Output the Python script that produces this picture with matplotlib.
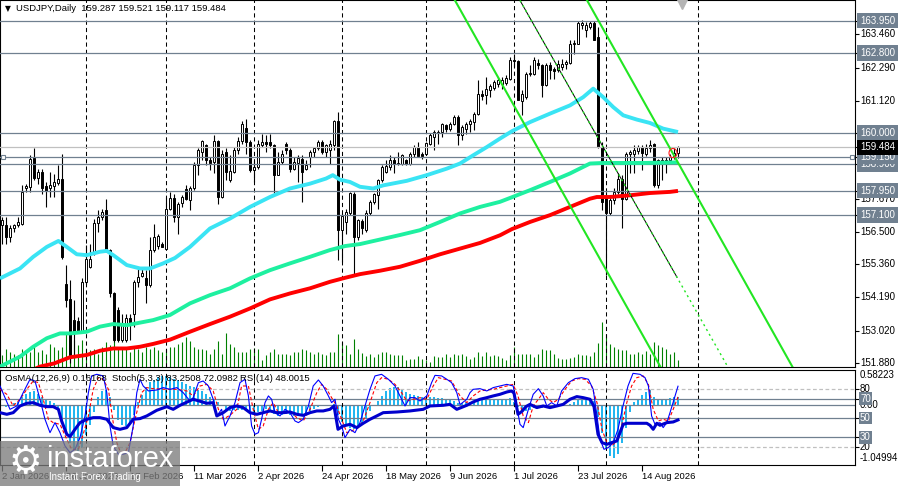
import numpy as np
import matplotlib
matplotlib.use("Agg")
import matplotlib.pyplot as plt
import matplotlib.transforms as mtrans
from matplotlib.patches import Ellipse, Rectangle

plt.rcParams['font.family'] = ['Liberation Sans', 'DejaVu Sans']

# ---------------- data (daily bars, index 0 = 2 Jan 2026) ----------------
opens = [156.74, 156.74, 156.32, 156.62, 156.74, 156.79, 158.06, 158.09, 159.12, 158.41,
         158.61, 158.11, 158.03, 158.11, 158.23, 158.38, 154.68, 154.12, 153.39, 153.37,
         152.98, 154.74, 155.27, 155.74, 156.82, 157.01, 157.26, 155.86, 154.33, 153.74,
         152.69, 152.69, 153.45, 153.62, 154.74, 154.94, 154.86, 154.62, 155.86, 155.99,
         156.09, 155.91, 157.32, 157.71, 157.03, 157.52, 158.00, 157.64, 158.06, 158.85,
         159.32, 159.55, 159.05, 158.97, 159.71, 157.73, 159.32, 158.32, 158.61, 159.38,
         159.71, 160.18, 159.67, 158.67, 158.79, 159.58, 159.67, 159.67, 159.55, 158.50,
         158.97, 159.61, 159.40, 158.73, 158.93, 159.08, 158.73, 159.14, 159.32, 159.44,
         159.67, 159.32, 159.40, 159.55, 160.41, 156.56, 156.85, 157.15, 157.85, 156.32,
         156.89, 156.56, 157.15, 157.56, 157.79, 158.32, 158.61, 158.79, 159.05, 158.88,
         158.91, 159.03, 158.91, 159.26, 159.49, 159.26, 159.26, 159.61, 159.85, 159.99,
         160.02, 160.26, 160.14, 160.32, 160.55, 159.90, 160.14, 160.29, 160.37, 160.64,
         161.35, 161.31, 161.51, 161.58, 161.72, 161.70, 161.75, 161.90, 162.57, 162.52,
         161.11, 161.25, 162.05, 162.07, 162.45, 162.37, 161.67, 162.40, 162.25, 162.19,
         162.31, 162.43, 162.45, 163.11, 163.13, 163.81, 163.63, 163.74, 163.86, 163.37,
         159.49, 157.73, 157.15, 157.64, 157.91, 158.38, 157.67, 159.24, 159.26, 159.35,
         159.49, 159.26, 159.44, 159.59, 158.14, 158.97, 158.97, 159.03, 159.14, 159.287]
highs = [157.03, 157.03, 156.74, 156.79, 157.03, 158.14, 158.18, 159.20, 159.44, 158.73,
         158.73, 158.26, 158.61, 158.55, 158.85, 159.26, 155.33, 154.80, 154.09, 153.51,
         154.86, 156.03, 156.09, 156.97, 157.26, 157.32, 157.67, 155.91, 154.39, 153.86,
         153.62, 153.62, 153.62, 154.80, 155.27, 155.21, 155.15, 156.32, 156.79, 156.44,
         156.15, 157.73, 157.91, 157.85, 157.56, 157.79, 158.14, 158.11, 158.97, 159.44,
         159.75, 159.61, 159.14, 159.90, 159.75, 159.38, 159.44, 159.20, 159.49, 159.85,
         160.41, 160.49, 159.73, 159.03, 159.73, 159.96, 159.90, 159.96, 159.61, 159.32,
         159.38, 159.67, 159.44, 159.14, 159.20, 159.20, 159.03, 159.38, 159.49, 159.75,
         159.73, 159.61, 159.75, 160.46, 160.73, 157.15, 157.29, 157.91, 157.91, 156.97,
         156.97, 157.26, 157.62, 157.87, 158.38, 158.85, 159.05, 159.20, 159.14, 159.32,
         159.26, 159.08, 159.32, 159.55, 159.67, 159.32, 159.67, 159.99, 160.08, 160.08,
         160.34, 160.32, 160.37, 160.61, 160.61, 160.26, 160.37, 160.49, 160.73, 161.84,
         161.49, 161.96, 161.72, 161.84, 161.96, 161.96, 162.02, 162.66, 162.78, 162.57,
         161.49, 162.14, 162.37, 162.66, 162.60, 162.43, 162.45, 162.49, 162.33, 162.55,
         162.60, 162.57, 163.25, 163.25, 163.95, 163.98, 163.90, 163.93, 163.93, 163.72,
         159.67, 157.91, 157.73, 158.03, 158.56, 158.50, 159.32, 159.40, 159.55, 159.55,
         159.55, 159.61, 159.73, 159.64, 159.08, 159.14, 159.14, 159.26, 159.44, 159.521]
lows = [156.09, 156.09, 156.15, 156.50, 156.68, 156.74, 157.91, 157.91, 158.32, 158.20,
        157.85, 157.38, 157.73, 157.73, 158.14, 155.55, 153.86, 151.86, 152.10, 152.92,
        152.92, 154.68, 155.21, 155.68, 156.50, 156.91, 155.80, 154.21, 152.63, 152.63,
        152.63, 152.63, 152.69, 153.16, 154.56, 154.92, 153.98, 154.56, 155.80, 155.91,
        155.97, 155.91, 157.26, 156.85, 156.44, 157.38, 157.62, 157.26, 157.97, 158.50,
        159.03, 158.85, 158.67, 158.56, 157.50, 157.68, 158.32, 158.26, 158.56, 159.26,
        159.61, 159.26, 158.61, 158.26, 158.73, 159.49, 159.32, 159.44, 157.85, 158.50,
        158.91, 159.26, 158.61, 158.67, 158.26, 157.56, 158.67, 158.79, 159.14, 159.38,
        159.26, 159.14, 158.91, 159.38, 155.50, 155.45, 156.44, 157.09, 154.97, 156.21,
        156.44, 156.50, 157.09, 157.50, 157.29, 158.26, 158.56, 158.67, 158.58, 158.85,
        158.85, 158.85, 158.85, 159.14, 159.14, 159.08, 159.20, 159.55, 159.38, 159.61,
        159.85, 160.02, 160.06, 160.26, 159.55, 159.73, 159.96, 160.02, 160.08, 160.61,
        161.14, 161.02, 161.25, 161.49, 161.61, 161.55, 161.67, 161.84, 162.31, 161.14,
        160.61, 161.20, 161.98, 162.02, 162.25, 161.25, 161.63, 161.90, 161.90, 162.14,
        162.19, 162.25, 162.43, 162.78, 163.11, 163.66, 163.37, 163.66, 163.25, 159.45,
        157.26, 154.97, 157.09, 157.50, 157.85, 156.62, 157.62, 158.56, 158.56, 159.26,
        158.67, 159.17, 159.32, 158.09, 158.03, 158.32, 158.56, 158.91, 159.08, 159.117]
closes = [156.91, 156.32, 156.62, 156.74, 156.85, 157.91, 158.11, 159.08, 158.41, 158.61,
          158.06, 157.95, 158.14, 158.26, 158.38, 155.62, 154.09, 152.10, 152.92, 152.98,
          154.74, 155.56, 155.56, 156.82, 157.03, 157.21, 155.86, 154.33, 152.69, 152.69,
          153.27, 153.45, 153.27, 154.74, 154.92, 155.06, 154.62, 155.86, 156.32, 156.35,
          155.97, 157.32, 157.71, 157.01, 157.50, 157.73, 157.66, 158.06, 158.85, 159.38,
          159.71, 159.03, 158.93, 159.71, 157.73, 159.26, 158.61, 158.65, 159.38, 159.71,
          160.29, 159.67, 158.67, 158.79, 159.61, 159.67, 159.61, 159.55, 158.50, 158.97,
          159.26, 159.40, 158.73, 158.97, 159.12, 158.61, 158.85, 159.32, 159.44, 159.67,
          159.32, 159.55, 159.59, 160.41, 156.56, 157.05, 157.21, 157.87, 156.32, 156.91,
          156.62, 157.17, 157.56, 157.82, 158.32, 158.79, 158.81, 159.03, 158.91, 158.93,
          159.20, 158.91, 159.26, 159.49, 159.17, 159.19, 159.64, 159.90, 160.02, 160.02,
          160.32, 160.14, 160.32, 160.55, 159.90, 160.20, 160.32, 160.41, 160.64, 161.35,
          161.28, 161.55, 161.63, 161.78, 161.84, 161.84, 161.94, 162.55, 162.52, 161.16,
          161.37, 162.05, 162.10, 162.57, 162.37, 161.67, 162.37, 162.19, 162.17, 162.43,
          162.43, 162.49, 163.13, 163.16, 163.86, 163.86, 163.78, 163.88, 163.27, 159.49,
          157.56, 157.15, 157.64, 157.91, 158.38, 157.67, 159.26, 159.32, 159.40, 159.49,
          159.28, 159.47, 159.58, 158.14, 159.03, 159.05, 159.05, 159.14, 159.28, 159.484]
# tick volume (thousands)
volumes = [11.7, 18.3, 15, 13.3, 11.7, 18.3, 16.7, 15, 20, 15,
           16.7, 13.3, 23.3, 20, 16.7, 20, 33.3, 28.3, 26.7, 21.7,
           26.7, 18.3, 16.7, 18.3, 13.3, 20, 25, 21.7, 26.7, 20,
           18.3, 18.3, 15, 20, 18.3, 15, 20, 18.3, 20, 16.7,
           15, 18.3, 20, 20, 23.3, 25, 30, 26, 20, 18.3,
           18.3, 16.7, 13.3, 18.3, 26, 13.3, 34, 23.3, 20, 15,
           15, 15, 18.3, 19.3, 18.3, 6.7, 11.7, 15, 18.3, 13.3,
           13.3, 13.3, 11.7, 15, 15, 18.3, 16.7, 15, 13.3, 15,
           13.3, 11.7, 15, 15, 33.3, 25, 21.7, 13.3, 28.3, 18.3,
           14, 10.7, 13.3, 10, 13.3, 15, 15, 13.3, 11.7, 11.7,
           11.7, 6.7, 8.3, 8.3, 10.7, 8.3, 6.7, 5, 10.7, 10,
           10, 12.7, 10, 13.3, 11.7, 13.3, 10.7, 8.3, 10, 15,
           10.7, 15, 10.7, 11.7, 10.7, 9.3, 7.3, 11.7, 20, 12.7,
           12.7, 12.7, 12.7, 10, 12.7, 18.3, 16.7, 17.3, 13.3, 9.3,
           8.3, 8.3, 9.3, 10, 12.7, 11.7, 11.7, 10.7, 15, 24,
           45, 33.3, 23.3, 20, 18.3, 17.3, 16.7, 13.3, 13.3, 15,
           13.3, 16, 13.3, 25, 21.7, 20, 18.3, 13.3, 15, 7.3]

# moving averages (bar index, price)
ma50_x = [-0.5, 4.5, 7.8, 11.2, 14.1, 16.2, 18.7, 21.2, 24.5, 26.2, 27.8, 31.2, 34.5, 37.0,
          40.3, 43.25, 47, 52, 57, 62, 67, 72, 77, 81, 82.7, 84.5, 87, 89.5, 92.8, 95.3,
          101.2, 106.2, 111.2, 114.5, 117.8, 121.2, 124.5, 127.5, 132, 137, 142, 145.3,
          147.8, 150.3, 152.8, 155.3, 158.7, 162, 165.3, 169]
ma50_v = [154.86, 155.21, 155.62, 155.97, 156.18, 155.97, 155.71, 155.68, 155.80, 155.83,
          155.68, 155.33, 155.21, 155.21, 155.39, 155.58, 155.97, 156.62, 156.97, 157.38,
          157.73, 158.03, 158.20, 158.38, 158.50, 158.34, 158.26, 158.09, 158.03, 158.14,
          158.30, 158.50, 158.73, 158.91, 159.20, 159.49, 159.79, 160.05, 160.37, 160.67,
          160.96, 161.25, 161.55, 161.25, 160.90, 160.61, 160.46, 160.34, 160.14, 160.02]
ma144_x = [-0.5, 4.5, 7.8, 11.2, 14.5, 17, 21.2, 24.5, 27.8, 31.2, 34.5, 37.8, 42, 47, 52,
           57, 62, 67, 72, 77, 82, 85.75, 89.5, 94.5, 99.5, 104.5, 109.5, 114.5, 119.5,
           124.5, 128, 132, 137, 142, 147, 150.3, 155.3, 160.3, 169]
ma144_v = [151.75, 152.10, 152.45, 152.75, 152.92, 152.92, 152.98, 153.16, 153.25, 153.21,
           153.30, 153.39, 153.57, 153.98, 154.27, 154.51, 154.86, 155.15, 155.39, 155.62,
           155.86, 156.00, 156.07, 156.23, 156.39, 156.56, 156.85, 157.15, 157.38, 157.56,
           157.75, 157.97, 158.26, 158.56, 158.91, 158.93, 158.93, 158.93, 158.95]
ma200_x = [7.5, 9.5, 13, 17, 21.2, 24.5, 27.8, 31.2, 34.5, 37.8, 42, 47, 52, 57, 62, 67,
           72, 77, 82, 85.75, 89.5, 94.5, 99.5, 104.5, 109.5, 114.5, 119.5, 124.5, 127.5,
           132, 137, 142, 147, 148.7, 152, 157, 162, 167, 169]
ma200_v = [151.62, 151.75, 151.86, 152.08, 152.16, 152.31, 152.39, 152.39, 152.45, 152.55,
           152.70, 152.98, 153.25, 153.51, 153.80, 154.12, 154.33, 154.51, 154.74, 154.88,
           155.01, 155.13, 155.27, 155.48, 155.71, 155.91, 156.11, 156.38, 156.60, 156.85,
           157.09, 157.38, 157.67, 157.73, 157.73, 157.79, 157.87, 157.91, 157.945]

# horizontal levels and current bid
levels = [163.95, 162.80, 160.00, 158.90, 159.15, 157.95, 157.10]
bid = 159.484
scale_prices = [163.46, 162.29, 161.12, 157.67, 156.50, 155.36, 154.19, 153.02, 151.88]

# channel objects (bar index, price anchors)
chan_lower = [(113.25, 164.66), (164.5, 151.77)]
chan_upper = [(149.5, 163.85), (197.5, 151.77)]
chan_mid = [(129.5, 164.66), (168.75, 154.90)]
ellipse_center = (167.75, 159.28)

# month separators (first bar of month) and date labels
month_starts = [21, 41, 63, 85, 106, 128, 151, 174]
date_idx = [0, 16, 32, 48, 64, 80, 96, 112, 128, 144, 160]
date_txt = ["2 Jan 2026", "26 Jan 2026", "17 Feb 2026", "11 Mar 2026", "2 Apr 2026",
            "24 Apr 2026", "18 May 2026", "9 Jun 2026", "1 Jul 2026", "23 Jul 2026",
            "14 Aug 2026"]

# OsMA(12,26,9) histogram per bar
osma = [-0.03, -0.05, -0.02, 0.03, 0.06, 0.15, 0.22, 0.26, 0.28, 0.22, 0.15, 0.10, 0.07, 0.03, -0.10,
        -0.30, -0.55, -0.75, -0.90, -0.95, -0.85, -0.60, -0.40, -0.15, 0.15, 0.28, 0.30, 0.15, -0.10, -0.30,
        -0.40, -0.42, -0.38, -0.20, 0.05, 0.20, 0.35, 0.45, 0.50, 0.55, 0.58, 0.58, 0.55, 0.52, 0.50,
        0.45, 0.42, 0.38, 0.35, 0.30, 0.28, 0.22, 0.15, 0.10, 0.05, 0.00, -0.10, -0.12, -0.10, -0.10,
        -0.10, -0.08, -0.12, -0.14, -0.15, -0.12, -0.08, -0.10, -0.18, -0.22, -0.20, -0.18, -0.20, -0.22, -0.22,
        -0.20, -0.18, -0.12, -0.08, -0.05, -0.03, -0.02, 0.00, 0.02, -0.20, -0.35, -0.42, -0.45, -0.48, -0.45,
        -0.40, -0.28, -0.12, 0.00, 0.08, 0.18, 0.27, 0.33, 0.36, 0.35, 0.30, 0.25, 0.22, 0.20, 0.17,
        0.15, 0.14, 0.15, 0.15, 0.14, 0.14, 0.12, 0.10, 0.08, 0.04, 0.03, 0.05, 0.06, 0.08, 0.10,
        0.10, 0.10, 0.10, 0.10, 0.12, 0.12, 0.12, 0.14, 0.05, -0.05, -0.10, -0.12, -0.10, -0.06, -0.04,
        -0.06, -0.05, -0.07, -0.06, -0.05, -0.03, -0.02, 0.02, 0.06, 0.10, 0.12, 0.12, 0.12, 0.08, -0.25,
        -0.55, -0.85, -1.02, -1.05, -0.98, -0.75, -0.45, -0.15, 0.05, 0.12, 0.20, 0.25, 0.30, 0.15, 0.12,
        0.12, 0.12, 0.14, 0.15, 0.16]

# RSI(14) (bar index, value)
rsi_x = [-0.5, 1.2, 2.8, 4.5, 6.2, 7.8, 9.5, 11.2, 12.8, 14.1, 14.9, 16.2, 17.0, 18.25, 19.5,
         21.2, 22.8, 24.5, 26.2, 27.8, 29.5, 31.2, 32.8, 34.5, 36.2, 38.7, 41.2, 42.8, 44.5,
         47.8, 51.2, 52.8, 53.7, 55.3, 57.0, 58.7, 60.3, 62.0, 63.7, 65.3, 67.0, 68.7, 70.3,
         72.0, 73.7, 75.3, 77.0, 78.7, 80.3, 82.0, 83.0, 84.0, 85.3, 87.0, 88.7, 90.3, 92.0,
         93.7, 95.3, 98.7, 102.0, 105.3, 107.0, 110.3, 112.0, 113.7, 116.2, 117.8, 119.5,
         121.2, 122.8, 124.5, 126.2, 127.4, 128.0, 129.0, 130.0, 131.0, 132.0, 133.7, 135.3,
         137.0, 138.7, 140.3, 142.0, 143.7, 145.3, 147.0, 148.0, 149.0, 150.0, 151.2, 152.4,
         153.7, 154.5, 155.3, 156.2, 158.7, 161.2, 162.0, 162.8, 163.7, 164.5, 166.2, 167.8, 169.0]
rsi_v = [55.6, 53.9, 55.6, 62.6, 65.4, 66.1, 63.3, 61.9, 61.9, 59.1, 46.9, 33.0, 30.6, 38.2, 45.2,
         48.7, 50.4, 50.4, 48.7, 40.0, 38.2, 40.0, 48.7, 49.4, 52.2, 58.1, 61.9, 59.1, 63.3,
         69.6, 65.4, 66.1, 52.2, 55.6, 60.9, 62.6, 60.9, 55.6, 53.9, 55.6, 57.4, 55.6, 55.6,
         56.3, 53.9, 52.8, 55.6, 57.4, 57.4, 59.1, 62.6, 38.2, 41.7, 43.4, 40.0, 44.5, 48.7,
         52.2, 55.6, 56.3, 57.4, 59.1, 62.6, 63.3, 64.3, 59.1, 63.3, 66.8, 69.6,
         71.3, 73.1, 74.8, 77.2, 78.3, 76.0, 53.9, 57.0, 62.0, 64.3, 60.9, 62.6,
         60.9, 62.6, 64.3, 69.6, 72.4, 71.3, 69.6, 62.0, 33.0, 24.3, 22.5, 24.3,
         26.0, 34.7, 43.4, 44.5, 44.5, 44.5, 42.4, 38.2, 44.5, 42.4, 45.2, 45.9, 48.0]

# Stochastic(5,3,3) main line
stk_x = [-0.5, 0.75, 2.0, 3.7, 5.3, 7.0, 8.25, 9.5, 10.75, 12.0, 13.25, 14.5, 15.75, 17.0, 18.25,
         19.5, 20.75, 21.6, 22.4, 23.7, 25.3, 26.2, 27.0, 27.8, 29.1, 30.3, 31.6, 32.8, 33.7,
         34.5, 35.3, 36.6, 38.7, 40.3, 42.0, 43.7, 45.3, 47.0, 47.8, 49.1, 50.3, 51.6, 52.8,
         53.7, 54.9, 55.75, 57.0, 58.25, 59.5, 60.75, 61.6, 62.4, 63.25, 64.1, 64.9, 65.75,
         66.6, 67.4, 68.25, 69.5, 70.75, 72.0, 73.25, 74.1, 75.3, 76.6, 77.8, 79.1, 80.3,
         81.6, 82.4, 83.25, 84.1, 84.9, 85.75, 87.0, 88.25, 89.5, 90.75, 92.0, 93.25, 94.9,
         96.6, 98.25, 99.5, 100.75, 102.0, 103.25, 104.5, 106.2, 107.4, 108.25, 109.9, 111.2,
         112.4, 113.7, 114.5, 116.2, 117.0, 117.8, 119.5, 121.2, 122.8, 124.5, 126.2, 127.8,
         128.7, 129.5, 130.3, 131.6, 132.8, 134.1, 135.3, 136.2, 137.4, 138.7, 139.9, 141.6,
         143.25, 144.9, 146.6, 147.8, 148.75, 149.5, 150.5, 151.6, 152.8, 154.0, 155.25,
         156.5, 157.75, 159.5, 160.75, 161.6, 162.4, 163.25, 164.5, 165.3, 166.2, 167.0,
         168.25, 169.0]
stk_v = [83.5, 71.3, 59.1, 62.6, 76.5, 90.5, 88.7, 69.6, 48.7, 34.7, 45.2, 34.7, 20.8, 13.8, 17.3,
         29.5, 52.2, 76.5, 94.0, 95.7, 94.0, 76.5, 41.7, 20.8, 12.1, 12.1, 13.8, 41.7, 76.5,
         90.5, 83.5, 78.3, 79.3, 81.8, 80.0, 81.8, 76.5, 67.8, 71.3, 87.0, 88.7, 83.5, 69.6,
         52.2, 59.1, 41.7, 52.2, 66.1, 87.0, 90.5, 73.1, 41.7, 33.0, 34.7, 48.7, 66.1,
         73.1, 69.6, 55.6, 52.2, 59.1, 55.6, 46.9, 45.2, 48.7, 62.6, 83.5, 89.8, 83.5,
         73.1, 66.1, 69.6, 48.7, 41.7, 29.5, 38.2, 34.7, 45.2, 62.6, 80.0, 94.0, 95.7,
         90.5, 83.5, 73.1, 62.6, 71.3, 71.3, 67.8, 73.1, 87.0, 94.6, 94.0, 90.5,
         87.0, 76.5, 64.0, 69.6, 76.5, 80.0, 80.7, 78.3, 81.8, 83.5, 85.2, 83.5,
         62.6, 43.4, 40.0, 59.1, 74.8, 80.7, 73.1, 62.6, 66.1, 62.6, 78.3, 87.0,
         91.2, 92.2, 90.5, 80.0, 52.2, 27.8, 17.3, 19.1, 24.3, 38.2, 62.6,
         83.5, 96.7, 95.7, 92.2, 83.5, 52.2, 43.4, 45.2, 40.0, 45.2, 55.6,
         73.1, 83.25]
# Stochastic signal line
sig_x = [-0.5, 1.2, 2.8, 4.5, 6.2, 7.8, 9.1, 10.3, 11.6, 12.8, 14.5, 16.2, 17.4, 19.1, 20.3,
         21.6, 22.8, 24.1, 25.3, 26.6, 27.8, 28.7, 29.5, 30.75, 32.0, 33.25, 34.1, 34.9, 36.2,
         37.8, 41.2, 43.7, 46.2, 47.8, 49.5, 51.2, 52.8, 54.1, 55.3, 57.0, 58.7, 59.9, 61.6,
         62.8, 64.1, 65.3, 66.6, 67.8, 69.1, 70.75, 72.0, 73.7, 75.3, 77.0, 78.7, 79.9, 81.2,
         82.4, 83.7, 84.9, 86.2, 87.4, 89.1, 90.3, 92.0, 93.7, 94.9, 96.6, 98.25, 99.9, 101.2,
         102.8, 104.5, 106.2, 107.8, 109.1, 110.75, 112.4, 114.5, 116.2, 117.8, 119.5, 121.2,
         122.8, 124.5, 126.2, 127.8, 129.0, 130.3, 131.6, 132.8, 134.1, 135.3, 136.6, 137.8,
         139.1, 140.75, 142.4, 144.1, 145.75, 147.4, 148.75, 150.0, 151.2, 152.4, 153.7,
         154.9, 156.2, 157.4, 158.7, 160.3, 161.6, 162.8, 164.1, 165.3, 166.6, 167.8, 169.0]
sig_v = [80.0, 74.8, 62.6, 69.6, 80.0, 88.7, 87.0, 69.6, 48.7, 45.2, 43.4, 27.8, 17.3, 17.3, 33.0,
         52.2, 80.0, 92.2, 90.5, 80.0, 45.2, 24.3, 15.6, 13.8, 24.3, 48.7, 62.6, 76.5, 81.8,
         80.7, 80.0, 80.0, 78.3, 73.1, 83.5, 85.2, 78.3, 59.1, 48.7, 53.0, 59.1, 83.5, 83.5,
         59.1, 38.2, 41.7, 59.1, 66.1, 55.6, 55.6, 57.4, 50.4, 46.9, 59.1, 76.5, 85.2, 80.0,
         71.3, 62.6, 48.7, 34.7, 36.5, 40.0, 46.9, 66.1, 87.0, 92.2, 90.5, 85.2, 76.5, 67.8,
         69.6, 71.3, 69.6, 83.5, 92.2, 90.5, 88.7, 73.1, 66.1, 73.1, 78.3, 79.3,
         80.0, 81.8, 83.5, 85.2, 73.1, 52.2, 45.2, 62.6, 69.6, 76.5, 69.6, 66.1,
         69.6, 80.0, 88.7, 91.2, 90.5, 83.5, 66.1, 38.2, 24.3, 20.8, 26.0,
         41.7, 66.1, 83.5, 92.2, 94.0, 85.2, 59.1, 46.9, 48.7, 46.9, 59.1, 72.1]

# ---------------- figure ----------------
W, H = 899, 486
fig = plt.figure(figsize=(W / 100, H / 100), dpi=100)
fig.patch.set_facecolor('white')
XR = 855  # right edge of plotting area (px)
XLIM = (-0.5, (XR - 2) / 4.0)
LVL = '#708090'
FS = 7.0      # price-scale labels
FS2 = 6.8     # headers and dates

ax = fig.add_axes([0, 1 - 367 / H, XR / W, 366.5 / H])
axv = ax.twinx()
ax.set_zorder(axv.get_zorder() + 1)
ax.patch.set_visible(False)
ax.set_xlim(*XLIM)
ax.set_ylim(151.736, 164.658)
axv.set_ylim(0, 367)
axv.axis('off')

idx = np.arange(len(closes))
o = np.array(opens); c = np.array(closes)
axv.vlines(idx, 0, volumes, color='#008000', lw=0.8)

for m in month_starts:
    ax.axvline(m, color='black', lw=0.75, ls=(0, (4, 3)), zorder=1)

ax.vlines(idx, lows, highs, color='black', lw=0.8, zorder=3)
up = c >= o
ax.bar(idx, np.maximum(np.abs(c - o), 0.012), bottom=np.minimum(o, c), width=0.62,
       color=np.where(up, 'white', 'black'), edgecolor='black', linewidth=0.7, zorder=4)

for lv in levels:
    ax.axhline(lv, color=LVL, lw=0.9, zorder=5)
ax.axhline(bid, color='#c0c0c0', lw=0.9, zorder=5)

ax.plot(ma200_x, ma200_v, color='#ff0000', lw=2.8, zorder=6, solid_capstyle='butt')
ax.plot(ma144_x, ma144_v, color='#1ef0a0', lw=2.8, zorder=6, solid_capstyle='butt')
ax.plot(ma50_x, ma50_v, color='#3ae4f4', lw=2.8, zorder=6, solid_capstyle='butt')

# channel
ax.axline(chan_lower[0], chan_lower[1], color='#22e622', lw=1.5, zorder=7)
ax.axline(chan_upper[0], chan_upper[1], color='#22e622', lw=1.5, zorder=7)
(mx0, my0), (mx1, my1) = chan_mid
slope = (my1 - my0) / (mx1 - mx0)
xs = np.array([mx0 - 2, mx1])
ax.plot(xs, my0 + slope * (xs - mx0), color='black', lw=0.7, zorder=7)
ax.axline(chan_mid[0], chan_mid[1], color='#22e622', lw=1.0, ls=(0, (1.5, 2.5)), zorder=7)
ax.add_patch(Ellipse(ellipse_center, 2.0, 0.32, fill=False, ec='#ff2020', lw=0.8, zorder=8))

ax.plot([0.25, 212.5], [levels[4], levels[4]], ls='none', marker='s', ms=3.5, mfc='white',
        mec=LVL, mew=0.8, clip_on=False, zorder=9)
ax.plot([170], [164.56], marker='v', ms=8, color='#b4b4b4', ls='none', clip_on=False, zorder=9)

ax.set_xticks([])
ax.yaxis.tick_right()
ax.set_yticks(scale_prices + levels + [bid])
ax.tick_params(axis='y', direction='out', length=3, width=0.8, labelright=False, labelleft=False)
for s in ax.spines.values():
    s.set_linewidth(0.8)

tr = mtrans.blended_transform_factory(ax.transAxes, ax.transData)
LX = 860 / XR
for p in scale_prices:
    ax.text(LX, p, f"{p:.3f}", transform=tr, fontsize=FS, va='center', ha='left', clip_on=False)
for lv in levels:
    ax.text(LX, lv, f"{lv:.3f}", transform=tr, fontsize=FS, va='center', ha='left', color='white',
            clip_on=False, bbox=dict(boxstyle='square,pad=0.28', fc=LVL, ec='none'))
ax.text(LX, bid, f"{bid:.3f}", transform=tr, fontsize=FS, va='center', ha='left', color='white',
        clip_on=False, bbox=dict(boxstyle='square,pad=0.28', fc='black', ec='none'))

# ---------------- sub window ----------------
ax2 = fig.add_axes([0, 1 - 465 / H, XR / W, 95 / H])
ax3 = ax2.twinx()
ax2.set_zorder(ax3.get_zorder() + 1)
ax2.patch.set_visible(False)
ax2.set_xlim(*XLIM)
ax3.set_xlim(*XLIM)
ax2.set_ylim(0.9, 100.2)
ax3.set_ylim(-1.192, 0.689)
ax3.axis('off')

ax3.bar(idx, osma, width=0.62, color='#22b6f0', zorder=2)
ax3.axhline(0, color=LVL, lw=0.9, zorder=3)
for m in month_starts:
    ax2.axvline(m, color='black', lw=0.75, ls=(0, (4, 3)), zorder=1)
for lv in (70, 50, 30):
    ax2.axhline(lv, color=LVL, lw=0.9, zorder=2)
for lv in (80, 20):
    ax2.axhline(lv, color='#c0c0c0', lw=0.9, ls=(0, (3, 2)), zorder=2)
ax2.plot(sig_x, sig_v, color='#ff0000', lw=0.8, ls=(0, (3, 2)), zorder=4)
ax2.plot(stk_x, stk_v, color='#0000ff', lw=0.8, zorder=4)
ax2.plot(rsi_x, rsi_v, color='#0000cd', lw=2.2, zorder=5)

ax2.set_xticks(date_idx)
ax2.tick_params(axis='x', direction='out', length=4, width=0.8, labelbottom=False)
ax2.yaxis.tick_right()
ax2.set_yticks([80, 70, 50, 30, 20])
ax2.tick_params(axis='y', direction='out', length=3, width=0.8, labelright=False, labelleft=False)
for s in ax2.spines.values():
    s.set_linewidth(0.8)

tr3 = mtrans.blended_transform_factory(ax3.transAxes, ax3.transData)
tr2 = mtrans.blended_transform_factory(ax2.transAxes, ax2.transData)
ax3.text(LX, 0.58223, "0.58223", transform=tr3, fontsize=FS, va='center', ha='left', clip_on=False)
ax3.text(LX, 0.0, "0.00", transform=tr3, fontsize=FS, va='center', ha='left', clip_on=False)
ax3.text(LX, -1.04994, "-1.04994", transform=tr3, fontsize=FS, va='center', ha='left', clip_on=False)
for lv in (80, 20):
    ax2.text(LX, lv, str(lv), transform=tr2, fontsize=FS, va='center', ha='left', clip_on=False)
for lv in (70, 50, 30):
    ax2.text(LX, lv, str(lv), transform=tr2, fontsize=FS, va='center', ha='left', color='white',
             clip_on=False, bbox=dict(boxstyle='square,pad=0.15', fc=LVL, ec='none'))

trd = mtrans.blended_transform_factory(ax2.transData, ax2.transAxes)
for i, t in zip(date_idx, date_txt):
    ax2.text(i + 0.1, -11 / 95, t, transform=trd, fontsize=FS2, va='center', ha='left', clip_on=False)

# ---------------- headers ----------------
fig.text(5 / W, 1 - 8.5 / H, "\u25BC", family='DejaVu Sans', fontsize=5.5, va='center', ha='left')
fig.text(16 / W, 1 - 8.5 / H, "USDJPY,Daily  159.287 159.521 159.117 159.484", fontsize=FS2,
         va='center', ha='left')
fig.text(5 / W, 1 - 378 / H, "OsMA(12,26,9) 0.16168", fontsize=FS2, va='center', ha='left', zorder=20)
fig.text(112 / W, 1 - 378 / H, "Stoch(5,3,3) 83.2508 72.0982", fontsize=FS2, va='center', ha='left', zorder=20)
fig.text(240 / W, 1 - 378 / H, "RSI(14) 48.0015", fontsize=FS2, va='center', ha='left', zorder=20)

# ---------------- watermark ----------------
fig.patches.append(Rectangle((0, 0), 180 / W, 45 / H, transform=fig.transFigure,
                             fc='#7c7c7c', ec='none', alpha=0.78, zorder=30))
fig.text(25 / W, 1 - 463 / H, "\u2699", family='DejaVu Sans', fontsize=27, color='white',
         va='center', ha='center', zorder=31)
fig.text(47 / W, 1 - 459 / H, "instaforex", fontsize=21, color='white', va='center', ha='left',
         zorder=31)
fig.text(49 / W, 1 - 477 / H, "Instant Forex Trading", fontsize=7, color='white', va='center',
         ha='left', zorder=31)

fig.savefig('out.png', dpi=100, facecolor='white')
